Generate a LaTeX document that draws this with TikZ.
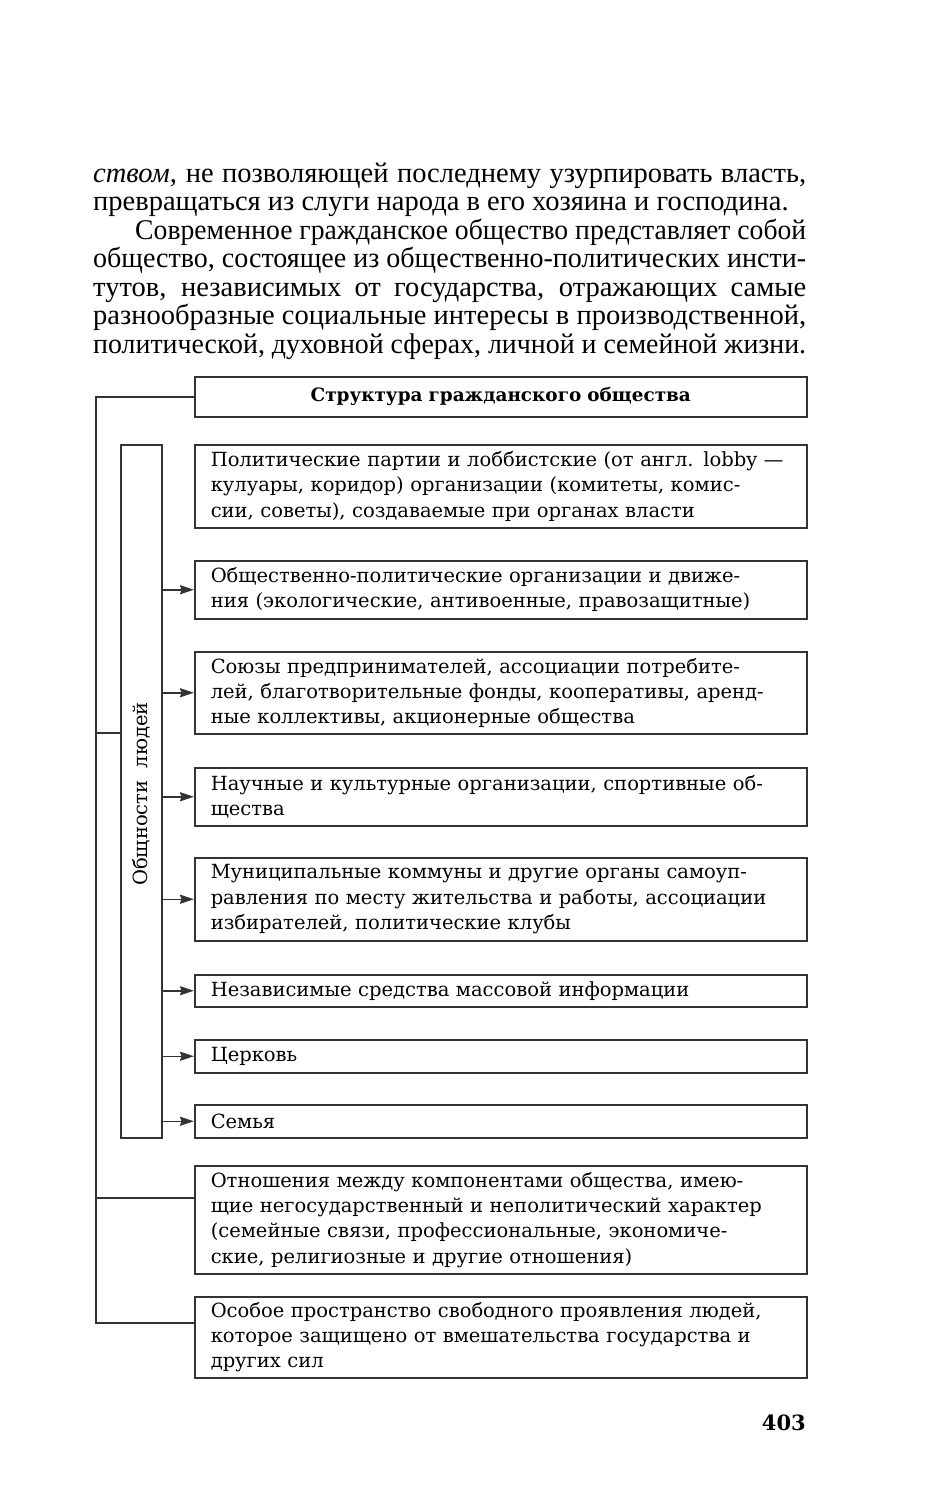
\documentclass[tikz,border=0pt]{standalone}
\usepackage{fontspec}
\usepackage{graphicx}
\setmainfont{DejaVu Serif}
\newfontfamily\bodyfont{Liberation Serif}
\usetikzlibrary{arrows.meta,calc}
\definecolor{linec}{HTML}{333333}
\newcommand\jline[2]{\sbox0{#2}\ifdim\wd0>#1\relax\resizebox{#1}{\height}{#2}\else\makebox[#1][s]{#2}\fi}
\begin{document}
\begin{tikzpicture}[x=1pt,y=-1pt,
  box/.style={draw=linec, line width=1.5pt, text width=580pt, inner xsep=16pt, inner ysep=0pt,
    align=left, anchor=north west, font=\fontsize{19.5}{25.3}\selectfont},
  para/.style={anchor=base west, inner sep=0pt, font=\bodyfont\fontsize{28.5}{30}\selectfont},
  conn/.style={draw=linec, line width=1.5pt},
  arr/.style={conn, -{Stealth[length=14pt,width=9pt,inset=1.5pt]}}]
\useasboundingbox (0,0) rectangle (930,1500);
% paragraph
\node[para] (p1) at (93,182) {\jline{713pt}{\textit{ством}, не позволяющей последнему узурпировать власть,}};
\node[para] (p2) at (93,210.5) {превращаться из слуги народа в его хозяина и господина.};
\node[para] (p3) at (135,239) {\jline{671pt}{Современное гражданское общество представляет собой}};
\node[para] (p4) at (93,267.5) {\jline{713pt}{общество, состоящее из общественно-политических инсти-}};
\node[para] (p5) at (93,296) {\jline{713pt}{тутов, независимых от государства, отражающих самые}};
\node[para] (p6) at (93,324.5) {\jline{713pt}{разнообразные социальные интересы в производственной,}};
\node[para] (p7) at (93,353) {\jline{713pt}{политической, духовной сферах, личной и семейной жизни.}};
% title
\node[box, minimum height=40pt, align=center, font=\bfseries\fontsize{18.4}{25}\selectfont] (title) at (194,376) {Структура гражданского общества};
% boxes
\node[box, minimum height=83pt] (b1) at (194,444) {Политические партии и лоббистские (от англ. lobby —\\кулуары, коридор) организации (комитеты, комис-\\сии, советы), создаваемые при органах власти};
\node[box, minimum height=58pt] (b2) at (194,560) {Общественно-политические организации и движе-\\ния (экологические, антивоенные, правозащитные)};
\node[box, minimum height=82pt] (b3) at (194,651) {Союзы предпринимателей, ассоциации потребите-\\лей, благотворительные фонды, кооперативы, аренд-\\ные коллективы, акционерные общества};
\node[box, minimum height=58pt] (b4) at (194,767) {Научные и культурные организации, спортивные об-\\щества};
\node[box, minimum height=83pt] (b5) at (194,857) {Муниципальные коммуны и другие органы самоуп-\\равления по месту жительства и работы, ассоциации\\избирателей, политические клубы};
\node[box, minimum height=32pt] (b6) at (194,974) {Независимые средства массовой информации};
\node[box, minimum height=33pt] (b7) at (194,1039) {Церковь};
\node[box, minimum height=33pt] (b8) at (194,1104) {Семья};
\node[box, minimum height=108pt] (b9) at (194,1165) {Отношения между компонентами общества, имею-\\щие негосударственный и неполитический характер\\(семейные связи, профессиональные, экономиче-\\ские, религиозные и другие отношения)};
\node[box, minimum height=81pt] (b10) at (194,1296) {Особое пространство свободного проявления людей,\\которое защищено от вмешательства государства и\\других сил};
% vertical box
\node[draw=linec, line width=1.5pt, minimum width=41pt, minimum height=693pt, inner sep=0pt, anchor=north west] (comm) at (120,444) {};
\node[rotate=90, inner sep=0pt, font=\fontsize{19.5}{20}\selectfont] (commlbl) at (141,794) {Общности\ \ людей};
% page number
\node[anchor=base east, inner sep=0pt, font=\bfseries\fontsize{21}{24}\selectfont] (page) at (806,1430) {403};
% outer connector
\coordinate (L) at (96,0);
\coordinate (j10) at ($(b10.north west)+(0,27)$);
\coordinate (j9) at ($(b9.north west)+(0,33)$);
\coordinate (jc) at ($(comm.north west)+(0,289)$);
\draw[conn] (title.west) -- (title.west -| L) -- (j10 -| L) -- (j10);
\draw[conn] (jc -| L) -- (jc);
\draw[conn] (j9 -| L) -- (j9);
% arrows
\foreach \b in {b2,b3,b4,b5,b6,b7,b8}
  \draw[arr] (comm.east |- \b.west) -- (\b.west);
\end{tikzpicture}
\end{document}
